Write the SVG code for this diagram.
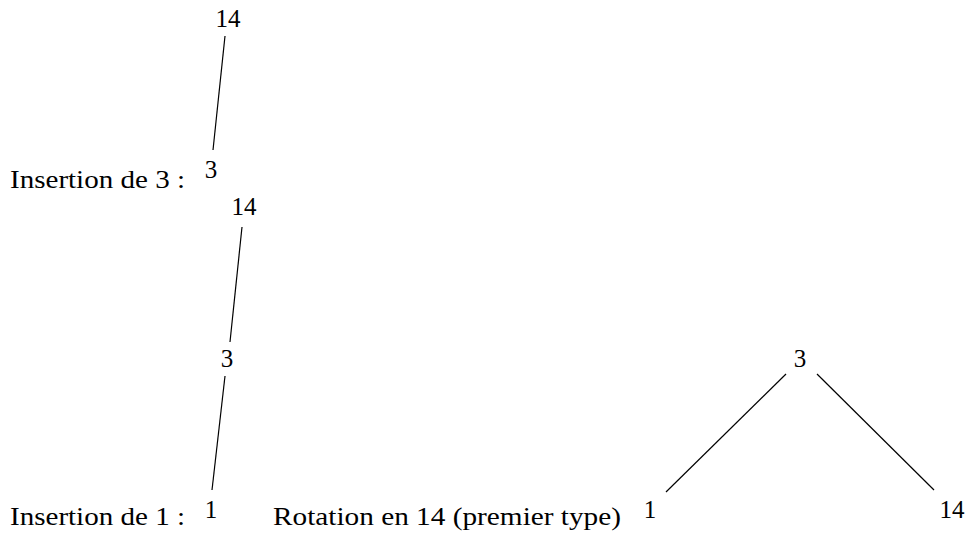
<svg xmlns="http://www.w3.org/2000/svg" width="966" height="534" viewBox="0 0 966 534">
<style>
text{font-family:'Liberation Serif','Times New Roman',serif;font-size:25px;fill:#000}
.c{text-anchor:middle}
line{stroke:#000;stroke-width:1.2}
</style>
<rect width="966" height="534" fill="#fff"/>
<g id="labels">
<text x="10" y="188" textLength="175" lengthAdjust="spacingAndGlyphs">Insertion de 3 :</text>
<text x="10" y="525" textLength="175" lengthAdjust="spacingAndGlyphs">Insertion de 1 :</text>
<text x="273" y="525" textLength="348" lengthAdjust="spacingAndGlyphs">Rotation en 14 (premier type)</text>
</g>
<g id="n14a"><text class="c" x="228" y="27">14</text></g>
<g id="n3a"><text class="c" x="211" y="178">3</text></g>
<g id="n14b"><text class="c" x="244" y="215">14</text></g>
<g id="n3b"><text class="c" x="227" y="367">3</text></g>
<g id="n1b"><text class="c" x="211" y="518">1</text></g>
<g id="n3c"><text class="c" x="800" y="367">3</text></g>
<g id="n1c"><text class="c" x="650" y="518">1</text></g>
<g id="n14c"><text class="c" x="952" y="518">14</text></g>
<g id="connectors">
<line x1="225" y1="36" x2="213" y2="150"/>
<line x1="242" y1="227" x2="230" y2="342"/>
<line x1="225" y1="376" x2="212" y2="490"/>
<line x1="786" y1="374" x2="666" y2="492"/>
<line x1="817" y1="374" x2="934" y2="490"/>
</g>
</svg>
